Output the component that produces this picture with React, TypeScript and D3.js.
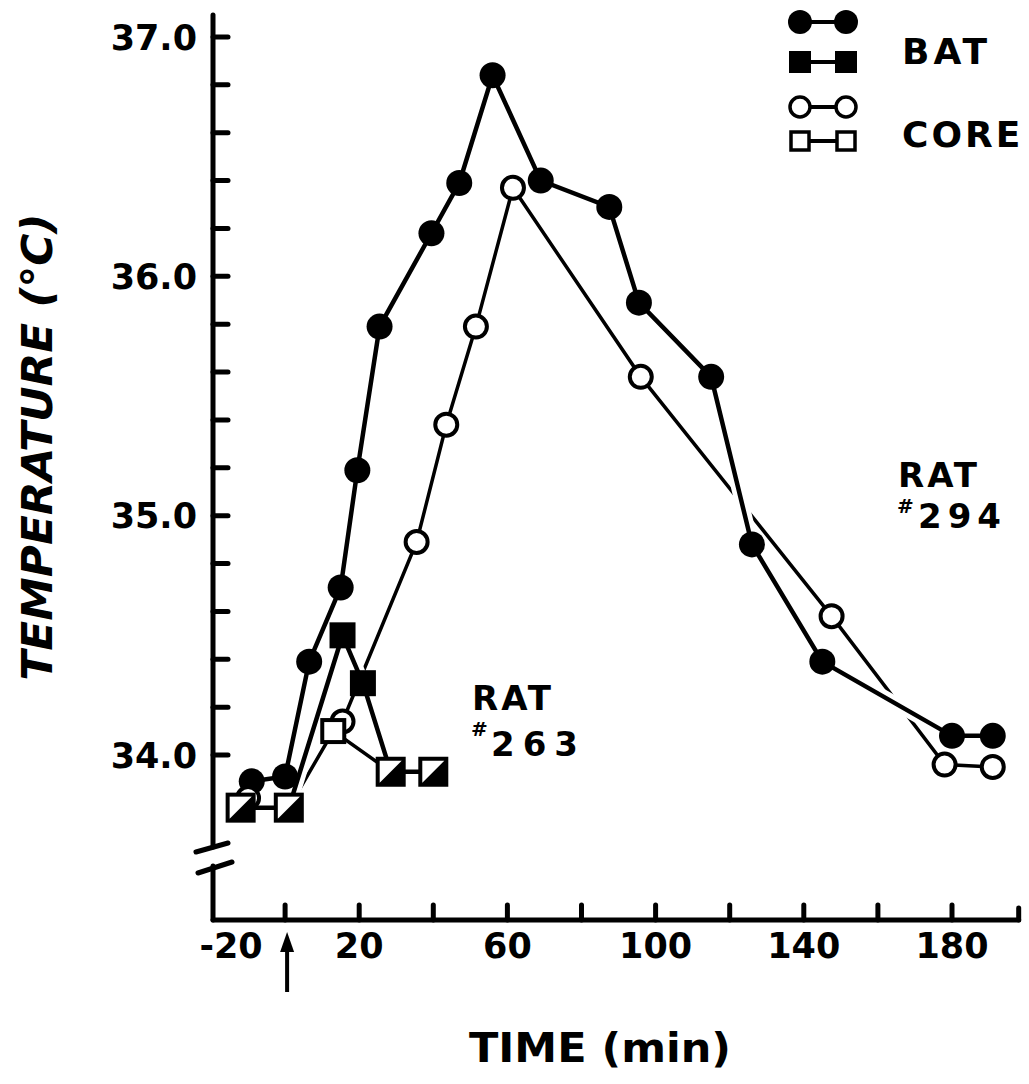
import React from "react";
import * as d3 from "d3";

// Rat #294 — BAT (filled circles)
const batRat294Time = [-9, 0, 6.5, 15, 19.5, 25.5, 39.5, 47, 56, 69, 87.5, 95.5, 115, 126, 145, 180, 191];
const batRat294Temp = [33.89, 33.91, 34.39, 34.7, 35.19, 35.79, 36.18, 36.39, 36.84, 36.4, 36.29, 35.89, 35.58, 34.88, 34.39, 34.08, 34.08];

// Rat #294 — CORE (open circles); first reading stands alone
const coreRat294Time = [-10, 15.5, 35.5, 43.5, 51.5, 61.5, 96, 147.5, 178, 191];
const coreRat294Temp = [33.82, 34.14, 34.89, 35.38, 35.79, 36.37, 35.58, 34.58, 33.96, 33.95];

// Rat #263 — BAT (filled squares)
const batRat263Time = [-12, 1, 15.5, 21, 28.5, 40];
const batRat263Temp = [33.78, 33.78, 34.5, 34.3, 33.93, 33.93];

// Rat #263 — CORE (open squares)
const coreRat263Time = [-12, 1, 13, 28.5, 40];
const coreRat263Temp = [33.78, 33.78, 34.1, 33.93, 33.93];

const xTicks = [0, 20, 40, 60, 80, 100, 120, 140, 160, 180];
const xTickLabels = [-20, 20, 60, 100, 140, 180];
const yTickLabels = [34, 35, 36, 37];
const legendLabels = ["BAT", "CORE"];

const FONT = "'DejaVu Sans', sans-serif";

type P = [number, number];
const zip = (a: number[], b: number[]): P[] => a.map((v, i) => [v, b[i]]);

export default function App() {
  const W = 1029;
  const H = 1084;
  const x = d3.scaleLinear().domain([-20, 180]).range([211, 952]);
  const y = d3.scaleLinear().domain([34, 37]).range([755, 37]);
  const line = d3.line<P>().x((d) => x(d[0])).y((d) => y(d[1]));

  const bat294 = zip(batRat294Time, batRat294Temp);
  const core294 = zip(coreRat294Time, coreRat294Temp);
  const bat263 = zip(batRat263Time, batRat263Temp);
  const core263 = zip(coreRat263Time, coreRat263Temp);

  const axisX = 213;
  const baseY = 920;
  const yTicks = d3.range(0, 16).map((i) => 34 + i * 0.2);

  const R = 13;
  const S = 26;

  const isShared = (p: P) => bat263.some((q) => q[0] === p[0] && q[1] === p[1]);

  const halfSquare = (cx: number, cy: number, key: string) => (
    <g key={key}>
      <rect x={cx - S / 2} y={cy - S / 2} width={S} height={S} fill="#fff" stroke="#000" strokeWidth={4} />
      <path d={`M${cx - S / 2},${cy + S / 2} L${cx + S / 2},${cy - S / 2} L${cx + S / 2},${cy + S / 2} Z`} fill="#000" />
    </g>
  );

  // legend
  const lgL = 800;
  const lgR = 846;
  const lgRows = [22, 62, 107, 141];

  return (
    <svg
      width={W}
      height={H}
      viewBox={`0 0 ${W} ${H}`}
      style={{ position: "absolute", left: 0, top: 0, background: "#fff", display: "block" }}
    >
      <rect x={0} y={0} width={W} height={H} fill="#fff" />
      {/* axes */}
      <g stroke="#000" strokeWidth={5} strokeLinecap="round" fill="none">
        <line x1={axisX} y1={15} x2={axisX} y2={847} />
        <line x1={axisX} y1={866} x2={axisX} y2={baseY} />
        <line x1={axisX - 17} y1={852} x2={axisX + 15} y2={843} />
        <line x1={axisX - 15} y1={873} x2={axisX + 19} y2={862} />
        <line x1={axisX} y1={baseY} x2={x(198)} y2={baseY} />
        <line x1={x(198)} y1={baseY} x2={x(198)} y2={baseY - 12} />
        {yTicks.map((t) => (
          <line key={t} x1={axisX} y1={y(t)} x2={axisX + 15} y2={y(t)} />
        ))}
        {xTicks.map((t) => (
          <line key={t} x1={x(t)} y1={baseY} x2={x(t)} y2={baseY - 15} />
        ))}
      </g>
      {/* y tick labels */}
      {yTickLabels.map((t) => (
        <text key={t} x={197} y={y(t)} dy="0.36em" textAnchor="end" fontFamily={FONT} fontWeight="bold" fontSize={35}>
          {t.toFixed(1)}
        </text>
      ))}
      {/* x tick labels */}
      {xTickLabels.map((t) => (
        <text
          key={t}
          x={t === -20 ? x(t) + 20 : x(t)}
          y={958}
          textAnchor="middle"
          fontFamily={FONT}
          fontWeight="bold"
          fontSize={35}
        >
          {t}
        </text>
      ))}
      {/* injection arrow */}
      <line x1={x(0) + 2} y1={992} x2={x(0) + 2} y2={948} stroke="#000" strokeWidth={4} />
      <path d={`M${x(0) - 5},${952} L${x(0) + 9},${952} L${x(0) + 2},${932} Z`} fill="#000" />
      {/* axis titles */}
      <text x={600} y={1062} textAnchor="middle" fontFamily={FONT} fontWeight="bold" fontSize={41} textLength={262} lengthAdjust="spacingAndGlyphs">
        TIME (min)
      </text>
      <text
        transform="translate(52,447) rotate(-90)"
        textAnchor="middle"
        fontFamily={FONT}
        fontWeight="bold"
        fontStyle="italic"
        fontSize={42}
        textLength={467}
        lengthAdjust="spacingAndGlyphs"
      >
        TEMPERATURE (°C)
      </text>

      {/* core lines */}
      <g fill="none" stroke="#000" strokeWidth={3.5}>
        <path d={line(core294.slice(1)) || ""} />
        <path d={line(core263) || ""} />
      </g>
      {/* bat line halos then lines */}
      <g fill="none" stroke="#fff" strokeWidth={14}>
        <path d={line(bat294) || ""} />
        <path d={line(bat263) || ""} />
      </g>
      <g fill="none" stroke="#000" strokeWidth={4.5}>
        <path d={line(bat294) || ""} />
        <path d={line(bat263) || ""} />
      </g>

      {/* markers */}
      {bat294.map((d, i) => (
        <circle key={"b" + i} cx={x(d[0])} cy={y(d[1])} r={R} fill="#000" />
      ))}
      {core294.map((d, i) => (
        <circle key={"c" + i} cx={x(d[0])} cy={y(d[1])} r={R - 2} fill="#fff" stroke="#000" strokeWidth={4} />
      ))}
      {bat263.filter((d) => !core263.some((q) => q[0] === d[0] && q[1] === d[1])).map((d, i) => (
        <rect key={"bs" + i} x={x(d[0]) - S / 2} y={y(d[1]) - S / 2} width={S} height={S} fill="#000" />
      ))}
      {core263.map((d, i) =>
        isShared(d) ? (
          halfSquare(x(d[0]), y(d[1]), "h" + i)
        ) : (
          <rect key={"cs" + i} x={x(d[0]) - S / 2 + 2} y={y(d[1]) - S / 2 + 2} width={S - 4} height={S - 4} fill="#fff" stroke="#000" strokeWidth={4} />
        )
      )}

      {/* annotations */}
      <g fontFamily={FONT} fontWeight="bold" fontSize={34}>
        <text x={898} y={487} letterSpacing={3}>RAT</text>
        <text x={897} y={513} fontSize={20}>#</text>
        <text x={918} y={528} letterSpacing={6}>294</text>
        <text x={472} y={710} letterSpacing={3}>RAT</text>
        <text x={471} y={736} fontSize={20}>#</text>
        <text x={491} y={756} letterSpacing={8}>263</text>
      </g>

      {/* legend */}
      <g stroke="#000" strokeWidth={4}>
        {lgRows.map((ry) => (
          <line key={ry} x1={lgL} y1={ry} x2={lgR} y2={ry} />
        ))}
      </g>
      {[lgL, lgR].map((cx) => (
        <g key={cx}>
          <circle cx={cx} cy={lgRows[0]} r={12} fill="#000" />
          <rect x={cx - 11} y={lgRows[1] - 11} width={22} height={22} fill="#000" />
          <circle cx={cx} cy={lgRows[2]} r={10} fill="#fff" stroke="#000" strokeWidth={3.5} />
          <rect x={cx - 9} y={lgRows[3] - 9} width={18} height={18} fill="#fff" stroke="#000" strokeWidth={3.5} />
        </g>
      ))}
      <g fontFamily={FONT} fontWeight="bold" fontSize={36}>
        <text x={902} y={64} letterSpacing={4}>{legendLabels[0]}</text>
        <text x={902} y={147} letterSpacing={3}>{legendLabels[1]}</text>
      </g>
    </svg>
  );
}
